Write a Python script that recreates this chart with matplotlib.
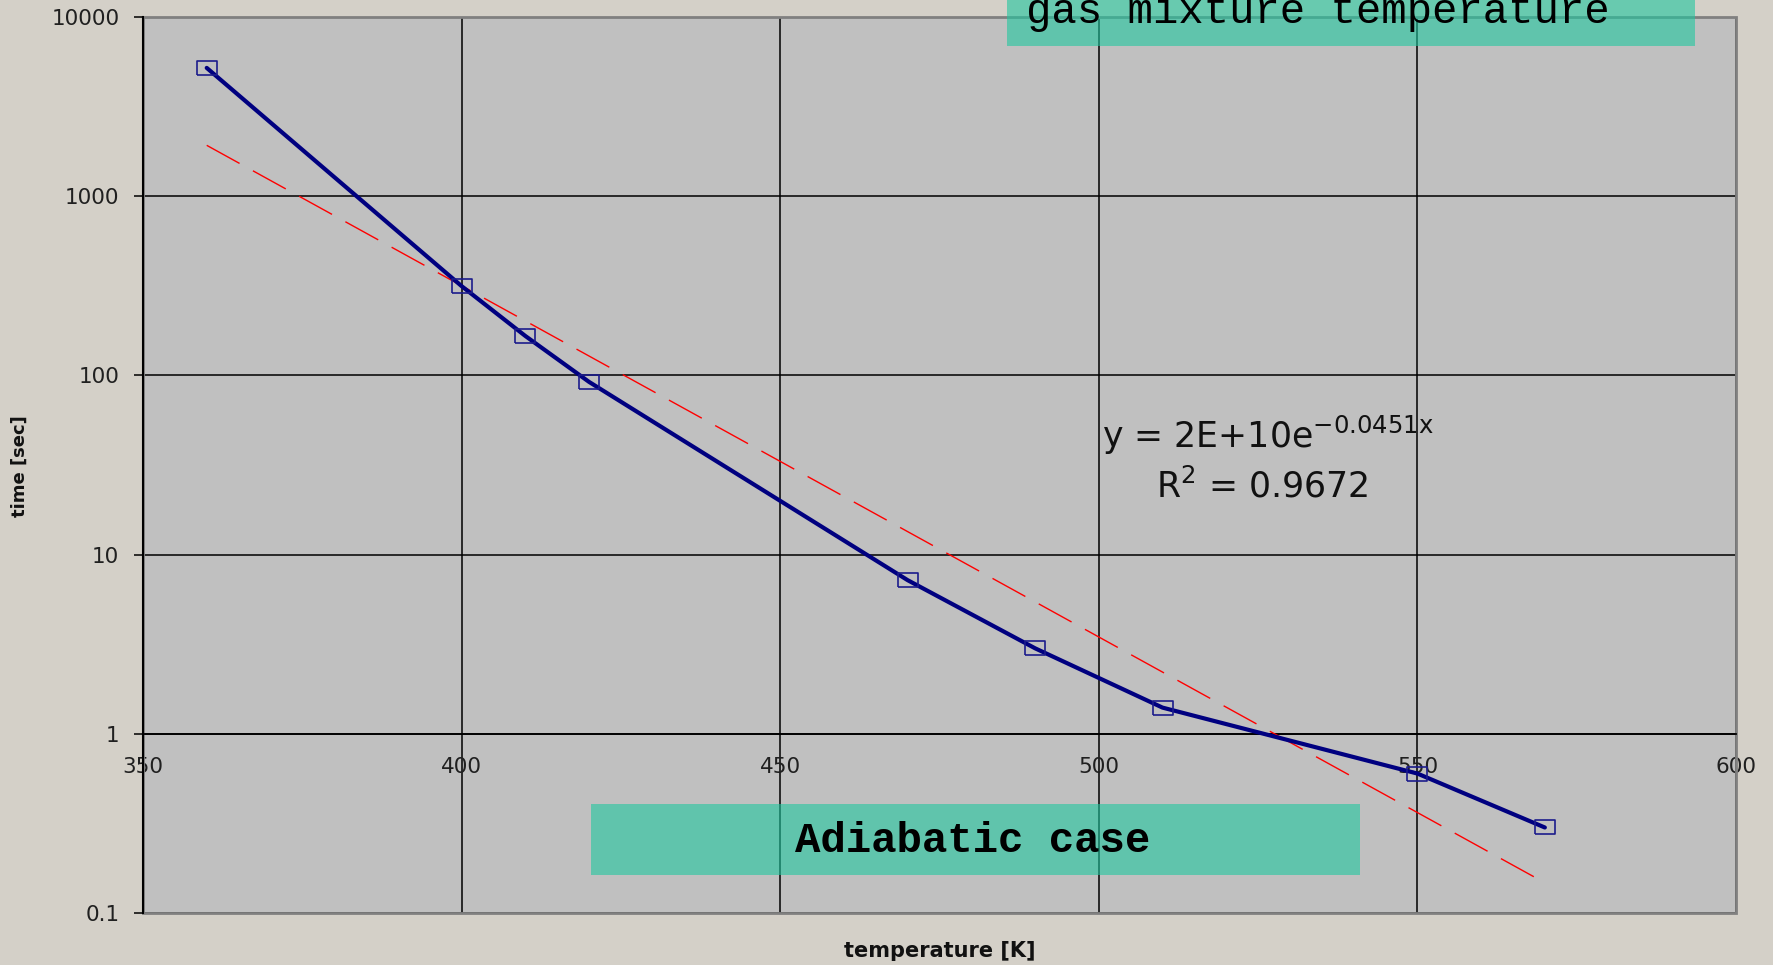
import matplotlib
matplotlib.use("Agg")
import matplotlib.pyplot as plt
import numpy as np
from matplotlib.patches import Rectangle
from matplotlib.path import Path
from matplotlib.ticker import FixedLocator, FuncFormatter, NullLocator

# measured ignition delay vs. initial temperature
temps = [360, 400, 410, 420, 470, 490, 510, 550, 570]
times = [5200, 315, 166, 92, 7.2, 3.0, 1.4, 0.6, 0.3]

x_ticks = [350, 400, 450, 500, 550, 600]
y_ticks = [0.1, 1, 10, 100, 1000, 10000]

fit_label = "y = 2E+10e$^{\\mathregular{-0.0451x}}$"
r2_label = "R$^{\\mathregular{2}}$ = 0.9672"

W, H = 1774, 965
plt.rcParams["lines.scale_dashes"] = False
plt.rcParams["mathtext.fontset"] = "dejavusans"

fig = plt.figure(figsize=(W / 100, H / 100), dpi=100, facecolor="#d4d0c8")
ax = fig.add_axes([143 / W, 1 - 913 / H, (1736 - 143) / W, (913 - 17) / H])
ax.set_facecolor("#c0c0c0")

ax.set_yscale("log")
ax.set_xlim(350, 600)
ax.set_ylim(0.1, 10000)
ax.xaxis.set_major_locator(FixedLocator(x_ticks))
ax.yaxis.set_major_locator(FixedLocator(y_ticks))
ax.yaxis.set_minor_locator(NullLocator())
ax.yaxis.set_major_formatter(FuncFormatter(lambda v, _: f"{v:g}"))

ax.grid(True, color="black", lw=1.1)

# x axis crosses at time = 1 s
ax.spines["bottom"].set_position(("data", 1))
ax.spines["bottom"].set_color("black")
ax.spines["bottom"].set_linewidth(1.3)
ax.spines["left"].set_linewidth(1.5)
ax.spines["top"].set_visible(False)
ax.spines["right"].set_visible(False)
ax.add_patch(Rectangle((0, 0), 1, 1, transform=ax.transAxes, fill=False,
                       edgecolor="#808080", lw=2, zorder=1.7, clip_on=False))

ax.tick_params(axis="x", length=0, pad=16.5, labelsize=15.5, labelcolor="#202020")
ax.tick_params(axis="y", length=6.5, width=1.1, pad=10.5, labelsize=15.5,
               labelcolor="#202020")

# exponential trendline
slope, icpt = np.polyfit(temps, np.log(times), 1)
tx = np.linspace(min(temps), max(temps), 200)
ax.plot(tx, np.exp(icpt + slope * tx), color="red", lw=1.0,
        dashes=(27, 11), zorder=3)

box = Path([(-1.27, -1), (1.27, -1), (1.27, 1), (-1.27, 1), (-1.27, -1)])
ax.plot(temps, times, color="#000080", lw=3, zorder=4, solid_capstyle="round")
ax.plot(temps, times, ls="none", marker=box, ms=13.7, mfc="none",
        mec="#1c1c8c", mew=1.2, zorder=5)

fig.text(1102 / W, 1 - 448 / H, fit_label, fontsize=25, va="baseline",
         ha="left", color="#111111")
fig.text(1156 / W, 1 - 498 / H, r2_label, fontsize=25, va="baseline",
         ha="left", color="#111111")

fig.text(20 / W, 1 - 466 / H, "time [sec]", rotation=90, fontsize=13,
         fontweight="bold", ha="center", va="center", color="#111111")
fig.text(940 / W, 1 - 957 / H, "temperature [K]", fontsize=15,
         fontweight="bold", ha="center", va="baseline", color="#111111")

teal = (32 / 255, 199 / 255, 159 / 255)
fig.add_artist(Rectangle((1007 / W, 1 - 46 / H), 688 / W, 46 / H,
                         transform=fig.transFigure, facecolor=teal,
                         alpha=0.6, lw=0, zorder=5))
fig.add_artist(Rectangle((591 / W, 1 - 875 / H), 769 / W, 71 / H,
                         transform=fig.transFigure, facecolor=teal,
                         alpha=0.6, lw=0, zorder=5))
fig.text(1026 / W, 1 - 23 / H, "gas mixture temperature",
         family="Liberation Mono", fontsize=30.5, va="baseline", zorder=6)
fig.text(795 / W, 1 - 852 / H, "Adiabatic case", family="Liberation Mono",
         fontweight="bold", fontsize=30.5, va="baseline", zorder=6)

fig.savefig("out.png", dpi=100, facecolor=fig.get_facecolor())
